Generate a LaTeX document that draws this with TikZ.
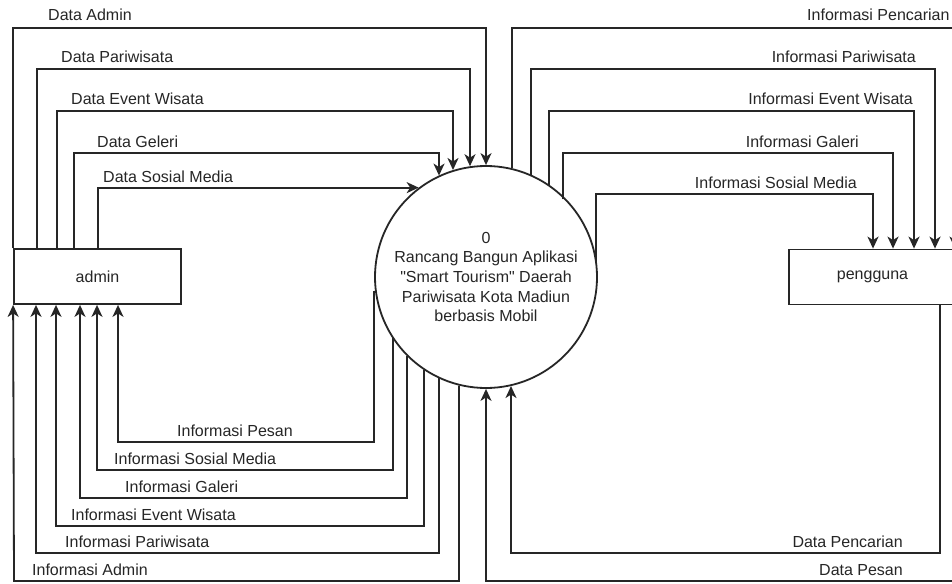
\documentclass[tikz,border=0pt]{standalone}
\usepackage{fontspec}
\setmainfont{Liberation Sans}[Ligatures=TeXOff]
\usetikzlibrary{arrows.meta}
\begin{document}
\begin{tikzpicture}[x=1pt,y=-1pt,
  flow/.style={draw=black!85, line width=1.8pt, -{Stealth[length=12pt,width=11pt,inset=3.5pt]}},
  lbl/.style={inner sep=0pt, font=\fontsize{16}{19}\selectfont, text=black!85},
  entity/.style={draw=black!85, line width=1.8pt, fill=white, minimum width=167pt,
    minimum height=55pt, inner sep=0pt, font=\fontsize{16}{19}\selectfont, text=black!85},
  process/.style={circle, draw=black!85, line width=1.8pt, fill=white, minimum size=222pt,
    inner sep=0pt, align=center, font=\fontsize{16}{19.7}\selectfont, text=black!85}]
\clip (0,0) rectangle (952,583);
\fill[white] (0,0) rectangle (952,583);

% entities and the process
\node[entity] (admin) at (97.5,276.5) {admin};
\node[entity] (user) at (872.5,277) {pengguna};
\node[process] (c) at (486,277) {0\\Rancang Bangun Aplikasi\\"Smart Tourism" Daerah\\Pariwisata Kota Madiun\\berbasis Mobil};

% admin -> process
\draw[flow] (admin.north west) |- (486,28) -- (c.90);
\draw[flow] (37,0 |- admin.north) |- (470,69) -- (470,0 |- c.98);
\draw[flow] (57,0 |- admin.north) |- (453,111) -- (453,0 |- c.107);
\draw[flow] (74,0 |- admin.north) |- (439,153) -- (439,0 |- c.115);
\draw[flow] (98,0 |- admin.north) |- (c.127);

% process -> pengguna
\draw[flow] (512,0 |- c.76) |- (955,28) -- (955,0 |- user.north);
\draw[flow] (531,0 |- c.66) |- (935,69) -- (935,0 |- user.north);
\draw[flow] (549,0 |- c.55) |- (914,111) -- (914,0 |- user.north);
\draw[flow] (563,0 |- c.44) |- (893,153) -- (893,0 |- user.north);
\draw[flow] (596,0 |- c.8) |- (873,194) -- (873,0 |- user.north);

% process -> admin
\draw[flow] (374,0 |- c.187) |- (118,442) -- (118,0 |- admin.south);
\draw[flow] (393,0 |- c.213) |- (97,470) -- (97,0 |- admin.south);
\draw[flow] (407,0 |- c.225) |- (80,498) -- (80,0 |- admin.south);
\draw[flow] (424,0 |- c.236) |- (56,526) -- (56,0 |- admin.south);
\draw[flow] (439,0 |- c.245) |- (36,553) -- (36,0 |- admin.south);
\draw[flow] (459,0 |- c.256) |- (14,581) -- (admin.south west);

% pengguna -> process
\draw[flow] (940,0 |- user.south) |- (511,553) -- (511,0 |- c.283);
\draw[flow] (958,0 |- user.south) |- (486,581) -- (c.270);

% flow labels
\node[lbl, anchor=base west] (l1) at (48,21) {Data Admin};
\node[lbl, anchor=base west] (l2) at (61,63) {Data Pariwisata};
\node[lbl, anchor=base west] (l3) at (71,105) {Data Event Wisata};
\node[lbl, anchor=base west] (l4) at (97,147) {Data Geleri};
\node[lbl, anchor=base west] (l5) at (103,182) {Data Sosial Media};

\node[lbl, anchor=base west] (r1) at (807,21) {Informasi Pencarian};
\node[lbl, anchor=base east] (r2) at (916,63) {Informasi Pariwisata};
\node[lbl, anchor=base east] (r3) at (913,105) {Informasi Event Wisata};
\node[lbl, anchor=base east] (r4) at (859,147) {Informasi Galeri};
\node[lbl, anchor=base east] (r5) at (857,188) {Informasi Sosial Media};

\node[lbl, anchor=base west] (b1) at (177,436) {Informasi Pesan};
\node[lbl, anchor=base west] (b2) at (114,464) {Informasi Sosial Media};
\node[lbl, anchor=base west] (b3) at (125,492) {Informasi Galeri};
\node[lbl, anchor=base west] (b4) at (71,520) {Informasi Event Wisata};
\node[lbl, anchor=base west] (b5) at (65,547) {Informasi Pariwisata};
\node[lbl, anchor=base west] (b6) at (32,575) {Informasi Admin};

\node[lbl, anchor=base east] (d1) at (903,547) {Data Pencarian};
\node[lbl, anchor=base east] (d2) at (903,575) {Data Pesan};
\end{tikzpicture}
\end{document}
